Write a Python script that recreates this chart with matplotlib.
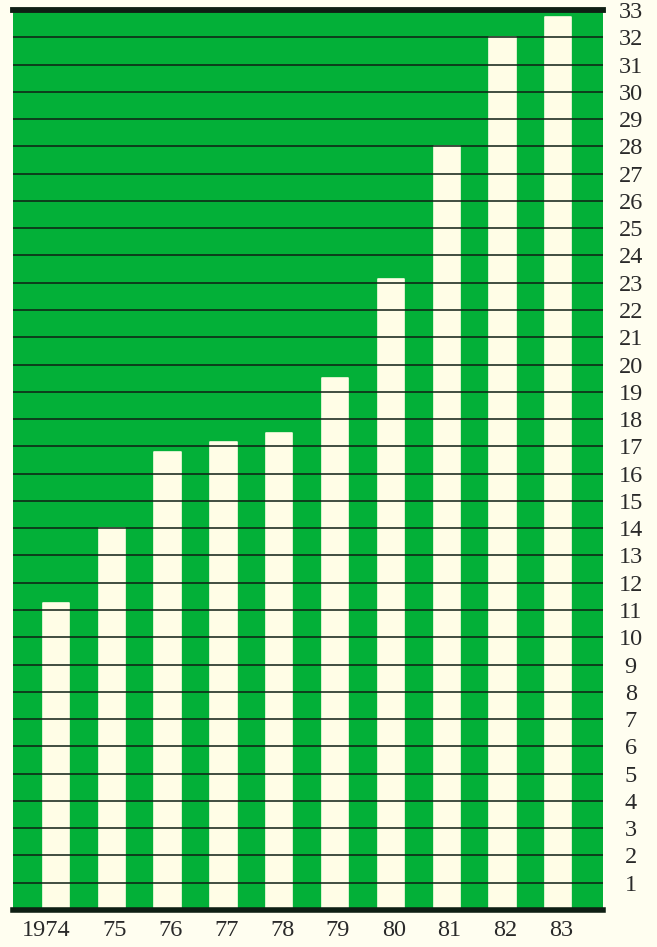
import matplotlib
matplotlib.use("Agg")
import matplotlib.pyplot as plt
from matplotlib.transforms import ScaledTranslation

years = ["1974", "75", "76", "77", "78", "79", "80", "81", "82", "83"]
values = [11.25, 14.0, 16.8, 17.15, 17.5, 19.5, 23.15, 28.0, 32.0, 32.75]
y_ticks = list(range(1, 34))

GREEN = "#03B038"
CREAM = "#FFFDE6"
PAGE = "#FFFEF0"
LINE = "#0f1f14"

plt.rcParams["font.family"] = ["Liberation Serif", "DejaVu Serif"]

fig = plt.figure(figsize=(6.57, 9.47), dpi=100, facecolor=PAGE)
ax = fig.add_axes([13 / 657, 37 / 947, 590 / 657, 900 / 947])
ax.set_facecolor(GREEN)

x = list(range(len(years)))
ax.bar(x, values, width=0.47, color=CREAM, edgecolor=CREAM, linewidth=1.2,
       joinstyle="round", zorder=2)

for t in y_ticks[:-1]:
    ax.axhline(t, color=LINE, lw=1.3, alpha=0.85, zorder=3)
ax.axhline(33, color=LINE, lw=4.2, zorder=4, clip_on=False)
ax.axhline(0, color=LINE, lw=4.0, zorder=4, clip_on=False)

ax.set_xlim(-0.77, 9.80)
ax.set_ylim(0, 33)

for s in ax.spines.values():
    s.set_visible(False)

ax.yaxis.tick_right()
ax.set_yticks(y_ticks)
ax.set_yticklabels([str(t) for t in y_ticks])
ax.tick_params(axis="y", length=0, pad=20, labelsize=17.5, labelcolor="#2a2a2a")
for lab in ax.get_yticklabels():
    lab.set_horizontalalignment("center")

ax.set_xticks(x)
ax.set_xticklabels(years)
ax.tick_params(axis="x", length=0, pad=7, labelsize=17.5, labelcolor="#2a2a2a")
offset = ScaledTranslation(15 / 100, 0, fig.dpi_scale_trans)
for lab in ax.get_xticklabels():
    lab.set_horizontalalignment("right")
    lab.set_transform(lab.get_transform() + offset)

fig.savefig("out.png", dpi=100, facecolor=PAGE)
